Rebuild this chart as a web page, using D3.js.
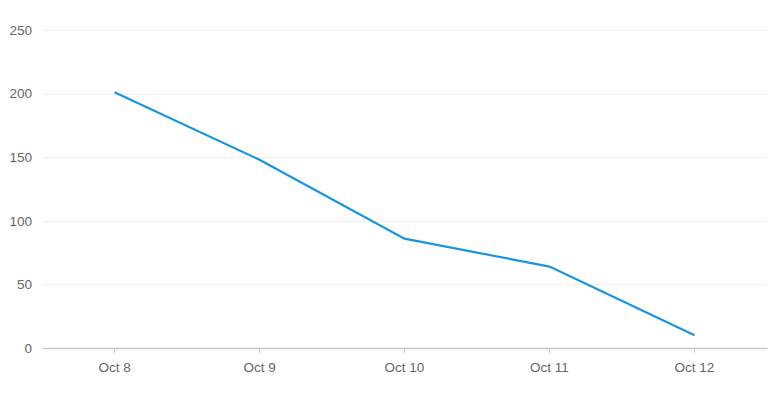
<!DOCTYPE html>
<html>
<head>
<meta charset="utf-8">
<script src="https://cdn.jsdelivr.net/npm/d3@7"></script>
<style>
  body { margin: 0; background: #fff; }
  text { font-family: "Liberation Sans", Arial, sans-serif; }
</style>
</head>
<body>
<div id="chart"></div>
<script>
const categories = ['Oct 8', 'Oct 9', 'Oct 10', 'Oct 11', 'Oct 12'];
const values = [201, 148, 86, 64, 10];
const yTicks = [0, 50, 100, 150, 200, 250];

const width = 780, height = 395;
const margin = { top: 30, right: 13, bottom: 47, left: 42 };
const innerW = width - margin.left - margin.right;
const innerH = height - margin.top - margin.bottom;

const svg = d3.select('#chart').append('svg')
  .attr('width', width).attr('height', height);

const g = svg.append('g').attr('transform', `translate(${margin.left},${margin.top})`);

const x = d3.scaleBand().domain(categories).range([0, innerW]);
const y = d3.scaleLinear().domain([0, 250]).range([innerH, 0]);

// Grid
g.append('g').selectAll('line')
  .data(yTicks.filter(d => d > 0))
  .join('line')
  .attr('x1', 0).attr('x2', innerW)
  .attr('y1', d => Math.round(y(d)) + 0.5).attr('y2', d => Math.round(y(d)) + 0.5)
  .attr('stroke', '#efefef').attr('stroke-width', 1);

// Y labels
g.append('g').selectAll('text')
  .data(yTicks)
  .join('text')
  .attr('x', -10).attr('y', d => y(d))
  .attr('dy', '0.35em')
  .attr('text-anchor', 'end')
  .attr('fill', '#666')
  .style('font-size', '13.5px')
  .text(d => d);

// X axis
const xAxis = g.append('g')
  .attr('transform', `translate(0,${innerH})`)
  .call(d3.axisBottom(x).tickSize(5).tickPadding(9).tickSizeOuter(0));
xAxis.select('.domain').attr('stroke', '#c8c8c8').attr('stroke-width', 1.5);
xAxis.selectAll('.tick line').attr('stroke', '#c8c8c8');
xAxis.selectAll('.tick text')
  .attr('fill', '#666')
  .style('font-size', '13.5px')
  .style('font-family', '"Liberation Sans", Arial, sans-serif');

// Line
const line = d3.line()
  .x((d, i) => x(categories[i]) + x.bandwidth() / 2)
  .y(d => y(d));

g.append('path')
  .datum(values)
  .attr('d', line)
  .attr('fill', 'none')
  .attr('stroke', '#1a94e0')
  .attr('stroke-width', 2.2);
</script>
</body>
</html>
